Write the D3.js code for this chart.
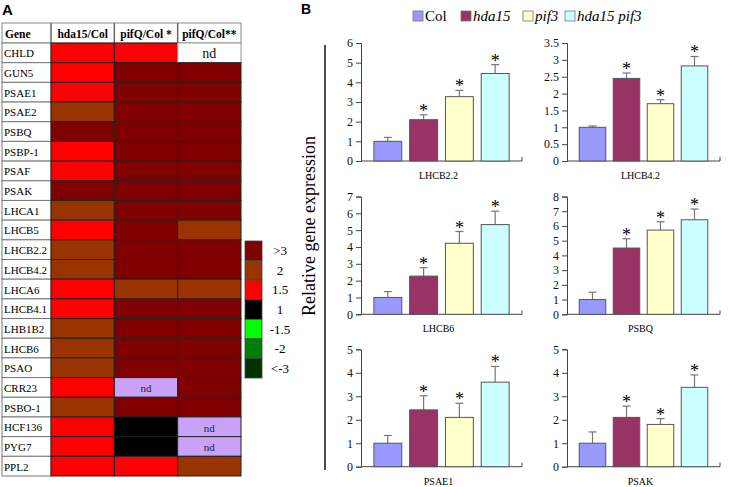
<!DOCTYPE html>
<html><head><meta charset="utf-8">
<script src="https://cdn.jsdelivr.net/npm/d3@7"></script>
<style>html,body{margin:0;padding:0;background:#fff;}svg{display:block;}</style>
</head><body>
<svg id="c" width="730" height="487"></svg>
<script>
// ---------- DATA ----------
const genes = ["CHLD","GUN5","PSAE1","PSAE2","PSBQ","PSBP-1","PSAF","PSAK","LHCA1","LHCB5","LHCB2.2","LHCB4.2","LHCA6","LHCB4.1","LHB1B2","LHCB6","PSAO","CRR23","PSBO-1","HCF136","PYG7","PPL2"];
const heatColumns = ["hda15/Col","pifQ/Col *","pifQ/Col**"];
const hda15Col = ["1.5","1.5","1.5","2",">3","1.5","1.5",">3","2","1.5","2","2","1.5","1.5","2","2","2","1.5","2","1.5","1.5","1.5"];
const pifQColA = ["1.5",">3",">3",">3",">3",">3",">3",">3",">3",">3",">3",">3","2",">3",">3",">3",">3","nd",">3","1","1","1.5"];
const pifQColB = ["nd-w",">3",">3",">3",">3",">3",">3",">3",">3","2",">3",">3","2",">3",">3",">3",">3",">3",">3","nd","nd","2"];
const levels = [">3","2","1.5","1","-1.5","-2","<-3"];
const levelColors = ["#800000","#993300","#ff0000","#000000","#00ff00","#008000","#003300"];

const series = ["Col","hda15","pif3","hda15 pif3"];
const seriesItalic = [false,true,true,true];
const seriesColors = ["#9999ff","#993366","#ffffcc","#ccffff"];
const panelGenes = ["LHCB2.2","LHCB4.2","LHCB6","PSBQ","PSAE1","PSAK"];
const panelMeans = [
  [1.0, 2.1, 3.27, 4.45],
  [1.0, 2.45, 1.7, 2.82],
  [1.0, 2.27, 4.22, 5.33],
  [1.0, 4.5, 5.72, 6.42],
  [1.0, 2.42, 2.1, 3.6],
  [1.0, 2.1, 1.8, 3.38]
];
const panelErrors = [
  [0.2, 0.25, 0.32, 0.45],
  [0.04, 0.16, 0.12, 0.28],
  [0.35, 0.5, 0.7, 0.8],
  [0.5, 0.63, 0.57, 0.73],
  [0.33, 0.6, 0.6, 0.67],
  [0.48, 0.48, 0.25, 0.53]
];
const panelSignif = [
  [false,true,true,true],[false,true,true,true],[false,true,true,true],
  [false,true,true,true],[false,true,true,true],[false,true,true,true]
];
const panelYMax = [6, 3.5, 7, 8, 5, 5];
const panelYStep = [1, 0.5, 1, 1, 1, 1];

// ---------- DRAW ----------
const svg = d3.select("#c");
const serif = "'Liberation Serif', 'Times New Roman', serif";
const sans = "'Liberation Sans', Arial, sans-serif";
function T(sel, fam){ return sel.style("font-family", fam); }

T(svg.append("text").attr("x",2).attr("y",15).attr("font-weight","bold").attr("font-size",15).text("A"), sans);
T(svg.append("text").attr("x",301).attr("y",14).attr("font-weight","bold").attr("font-size",14).text("B"), sans);

// ---- Heatmap ----
const tableLeft = 2, geneColRight = 51, tableRight = 241, headTop = 23, headBottom = 43, tableBottom = 476;
const colScale = d3.scaleBand().domain(heatColumns).range([geneColRight, tableRight]);
const rowScale = d3.scaleBand().domain(genes).range([headBottom, tableBottom]);
const colorScale = d3.scaleOrdinal().domain(levels.concat(["nd","nd-w"])).range(levelColors.concat(["#c9a3f7","#ffffff"]));
const heatData = [hda15Col, pifQColA, pifQColB];

const hm = svg.append("g");
hm.append("rect").attr("x",tableLeft).attr("y",headTop).attr("width",tableRight-tableLeft).attr("height",headBottom-headTop)
  .attr("fill","#fff").attr("stroke","#888");
T(hm.append("text").attr("x",tableLeft+3).attr("y",headTop+14.5).attr("font-weight","bold").attr("font-size",11.5).text("Gene"), serif);
heatColumns.forEach(c=>{
  hm.append("line").attr("x1",colScale(c)).attr("x2",colScale(c)).attr("y1",headTop).attr("y2",headBottom).attr("stroke","#666").attr("stroke-width",1.5);
  T(hm.append("text").attr("x",colScale(c)+colScale.bandwidth()/2).attr("y",headTop+14.5).attr("text-anchor","middle")
    .attr("font-weight","bold").attr("font-size",11.5).text(c), serif);
});
genes.forEach((g,i)=>{
  hm.append("rect").attr("x",tableLeft).attr("y",rowScale(g)).attr("width",geneColRight-tableLeft).attr("height",rowScale.bandwidth())
    .attr("fill","#fff").attr("stroke","#777");
  T(hm.append("text").attr("x",tableLeft+2).attr("y",rowScale(g)+rowScale.bandwidth()/2+4.5).attr("font-size",11).text(g), serif);
});
heatColumns.forEach((c,ci)=>{
  genes.forEach((g,gi)=>{
    const v = heatData[ci][gi];
    hm.append("rect").attr("x",colScale(c)).attr("y",rowScale(g)).attr("width",colScale.bandwidth()).attr("height",rowScale.bandwidth())
      .attr("fill",colorScale(v)).attr("stroke", v==="nd-w" ? "#999" : "#222").attr("stroke-width",1);
  });
});
heatColumns.forEach((c,ci)=>{
  genes.forEach((g,gi)=>{
    const v = heatData[ci][gi];
    if (v==="nd" || v==="nd-w") {
      T(hm.append("text").attr("x",colScale(c)+colScale.bandwidth()/2).attr("y",rowScale(g)+rowScale.bandwidth()/2+5)
        .attr("text-anchor","middle").attr("font-size",v==="nd-w"?14:11)
        .attr("fill",v==="nd-w"?"#111":"#1a1a55").text("nd"), serif);
    }
  });
});

const legScale = d3.scaleBand().domain(levels).range([241, 378]);
const lg = svg.append("g");
levels.forEach((l,i)=>{
  lg.append("rect").attr("x",245).attr("y",legScale(l)).attr("width",17).attr("height",legScale.bandwidth())
    .attr("fill",levelColors[i]).attr("stroke","#444").attr("stroke-width",0.8);
  T(lg.append("text").attr("x",280).attr("y",legScale(l)+legScale.bandwidth()/2+4.5).attr("text-anchor","middle")
    .attr("font-size",13).text(l), serif);
});

// ---- Bar panels ----
const legItems = [{sx:413,tx:425},{sx:461,tx:473},{sx:523,tx:535},{sx:565,tx:577}];
series.forEach((s,i)=>{
  svg.append("rect").attr("x",legItems[i].sx).attr("y",11).attr("width",10).attr("height",10)
    .attr("fill",seriesColors[i]).attr("stroke","#777").attr("stroke-width",0.8);
  T(svg.append("text").attr("x",legItems[i].tx).attr("y",21).attr("font-size",15)
    .attr("font-style",seriesItalic[i]?"italic":"normal").text(s), serif);
});
T(svg.append("text").attr("transform","translate(315,226) rotate(-90)").attr("text-anchor","middle")
  .attr("font-size",18).text("Relative gene expression"), serif);
svg.append("line").attr("x1",325).attr("x2",325).attr("y1",45).attr("y2",470).attr("stroke","#111").attr("stroke-width",1.5);

const colX = [[361,522],[567,720]];
const rowY = [[43,161],[196.5,314.3],[349.3,466.7]];

panelGenes.forEach((pg,pi)=>{
  const col = pi % 2, row = Math.floor(pi/2);
  const [x0,x1] = colX[col];
  const [yT,yB] = rowY[row];
  const g = svg.append("g");
  const y = d3.scaleLinear().domain([0,panelYMax[pi]]).range([yB,yT]);
  const x = d3.scaleBand().domain(series).range([x0,x1]).paddingInner(0.22).paddingOuter(0.36);
  const ticks = d3.range(0, panelYMax[pi] + 1e-9, panelYStep[pi]);
  const ax = g.append("g").attr("transform",`translate(${x0},0)`)
    .call(d3.axisLeft(y).tickValues(ticks).tickSize(5).tickPadding(3).tickFormat(d3.format("~g")));
  ax.selectAll("path").attr("stroke","#444");
  ax.selectAll("line").attr("stroke","#444");
  ax.selectAll("text").style("font-family",serif).attr("font-size",12).attr("fill","#111");
  g.append("line").attr("x1",x0).attr("x2",x1).attr("y1",yB).attr("y2",yB).attr("stroke","#444");
  g.append("line").attr("x1",x1).attr("x2",x1).attr("y1",yB).attr("y2",yB-4).attr("stroke","#444");
  series.forEach((s,si)=>{
    const m = panelMeans[pi][si], e = panelErrors[pi][si];
    const cx = x(s) + x.bandwidth()/2;
    g.append("line").attr("x1",cx).attr("x2",cx).attr("y1",y(m)).attr("y2",y(m+e)).attr("stroke","#777").attr("stroke-width",1.2);
    g.append("line").attr("x1",cx-4).attr("x2",cx+4).attr("y1",y(m+e)).attr("y2",y(m+e)).attr("stroke","#777").attr("stroke-width",1.2);
    g.append("rect").attr("x",x(s)).attr("y",y(m)).attr("width",x.bandwidth()).attr("height",yB-y(m))
      .attr("fill",seriesColors[si]).attr("stroke","#555").attr("stroke-width",1);
    if (panelSignif[pi][si]) {
      T(g.append("text").attr("x",cx).attr("y",y(m+e)+2).attr("text-anchor","middle")
        .attr("font-size",18).text("*"), serif);
    }
  });
  const bStart = x(series[0]), bEnd = x(series[3]) + x.bandwidth();
  T(g.append("text").attr("x",(bStart+bEnd)/2 - 3).attr("y",yB+18).attr("text-anchor","middle")
    .attr("font-size",10).text(pg), serif);
});
</script>
</body></html>
